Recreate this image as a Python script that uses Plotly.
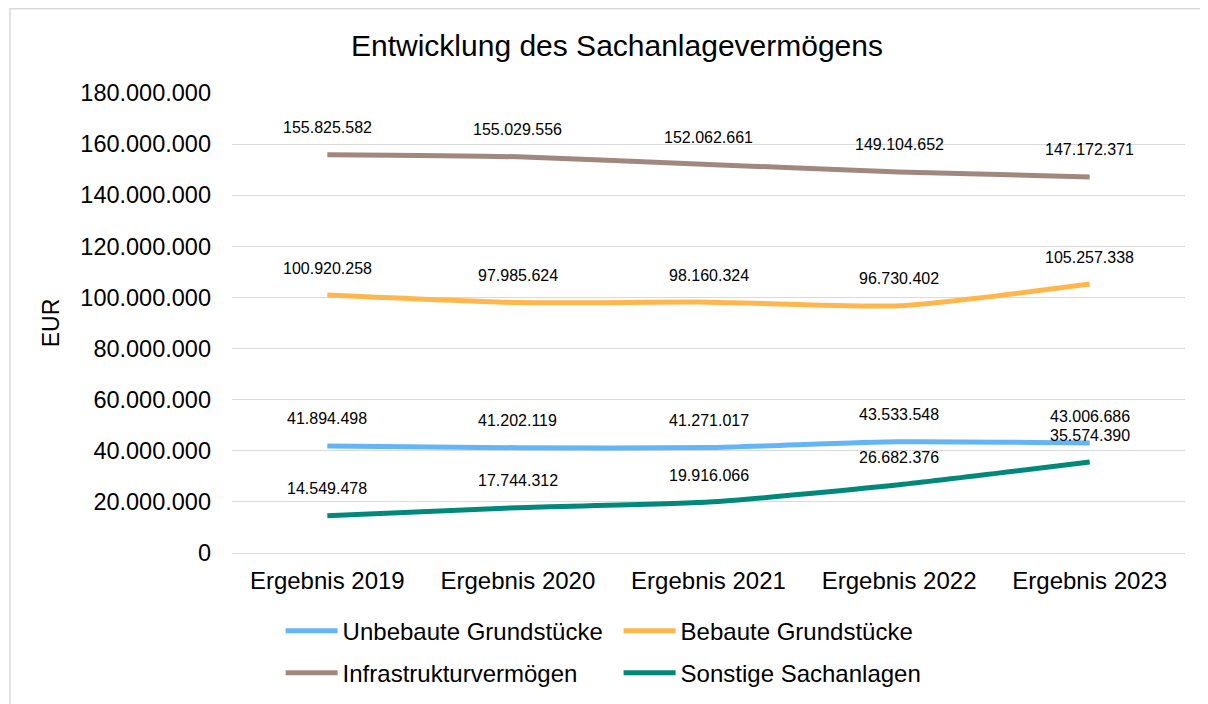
import plotly.graph_objects as go

categories = ["Ergebnis 2019", "Ergebnis 2020", "Ergebnis 2021", "Ergebnis 2022", "Ergebnis 2023"]
unbebaute = [41894498, 41202119, 41271017, 43533548, 43006686]
bebaute = [100920258, 97985624, 98160324, 96730402, 105257338]
infrastruktur = [155825582, 155029556, 152062661, 149104652, 147172371]
sonstige = [14549478, 17744312, 19916066, 26682376, 35574390]

series = [
    ("Unbebaute Grundstücke", unbebaute, "#64B5F6", "legend"),
    ("Bebaute Grundstücke", bebaute, "#FFB74D", "legend"),
    ("Infrastrukturvermögen", infrastruktur, "#A1887F", "legend2"),
    ("Sonstige Sachanlagen", sonstige, "#00897B", "legend2"),
]

FONT = "Liberation Sans, Arial, sans-serif"

def fmt(v):
    return f"{v:,}".replace(",", ".")

fig = go.Figure()
annotations = []
for name, vals, color, leg in series:
    fig.add_trace(go.Scatter(
        x=categories, y=vals, name=name, mode="lines",
        line=dict(color=color, width=5, shape="spline", smoothing=0.6),
        legend=leg, hoverinfo="skip",
    ))
    for c, v in zip(categories, vals):
        annotations.append(dict(
            x=c, y=v, xref="x", yref="y", text=fmt(v), showarrow=False,
            yshift=27, font=dict(family=FONT, size=16, color="#000000"),
        ))

annotations.append(dict(
    x=0.404, y=1.104, xref="paper", yref="paper", text="Entwicklung des Sachanlagevermögens",
    showarrow=False, font=dict(family=FONT, size=30, color="#000000"),
    xanchor="center", yanchor="middle",
))

legend_common = dict(
    orientation="h", xanchor="left", yanchor="middle",
    font=dict(family=FONT, size=24, color="#000000"),
    entrywidth=271, entrywidthmode="pixels",
    bgcolor="rgba(0,0,0,0)", itemwidth=52,
)

fig.update_layout(
    width=1200, height=696,
    margin=dict(l=224, r=23, t=85, b=151, autoexpand=False),
    paper_bgcolor="white", plot_bgcolor="white",
    separators=",.",
    font=dict(family=FONT, size=23, color="#000000"),
    showlegend=True,
    legend=dict(x=0.051, y=-0.170, **legend_common),
    legend2=dict(x=0.051, y=-0.261, **legend_common),
    annotations=annotations,
    shapes=[dict(
        type="rect", xref="paper", yref="paper",
        x0=-0.233, x1=1.1, y0=-0.4, y1=1.183,
        line=dict(color="#D9D9D9", width=1.5), fillcolor="rgba(0,0,0,0)",
        layer="below",
    )],
)

fig.update_xaxes(
    type="category", range=[-0.5, 4.5],
    showgrid=False, showline=False, zeroline=False, ticks="",
    tickfont=dict(family=FONT, size=24, color="#000000"),
    ticklabelstandoff=11,
)
fig.update_yaxes(
    range=[0, 180000000], dtick=20000000, tickformat=",d",
    showgrid=True, gridcolor="#D9D9D9", gridwidth=1.3,
    zeroline=True, zerolinecolor="#D9D9D9", zerolinewidth=1.3,
    showline=False, ticks="",
    tickfont=dict(family=FONT, size=23.5, color="#000000"),
    ticklabelstandoff=20,
    title=dict(text="EUR", font=dict(family=FONT, size=23, color="#000000"), standoff=14),
)

fig.write_html("out.html")
